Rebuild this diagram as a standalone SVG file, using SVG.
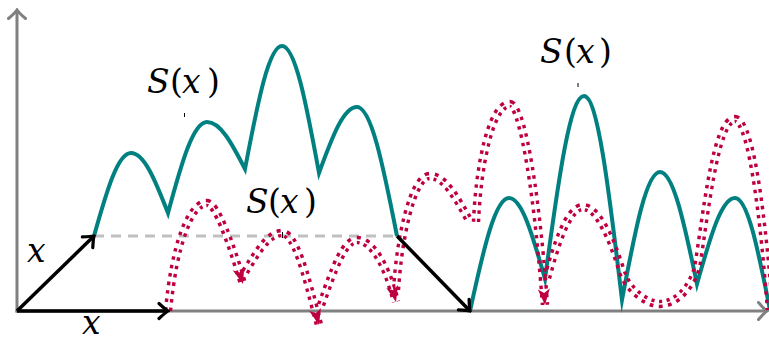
<svg xmlns="http://www.w3.org/2000/svg" width="769" height="341" viewBox="0 0 769 341">
<style>
.axis{stroke:#808080;stroke-width:3;fill:none}
.vec{stroke:#000;stroke-width:3.5;fill:none}
.teal{stroke:#008080;stroke-width:4;fill:none;stroke-linejoin:miter;stroke-miterlimit:20}
.mag{stroke:#BF0040;stroke-width:8.5;fill:none;stroke-dasharray:3.5 5}
.dash{stroke:#C0C0C0;stroke-width:3;stroke-dasharray:10 7;fill:none}
.lbl{font-family:"DejaVu Serif","Liberation Serif","Noto Serif",serif;font-size:33px;fill:#000}
.it{font-style:italic}
.tick{stroke:#000;stroke-width:1}
</style>
<defs>
<marker id="chK" markerUnits="userSpaceOnUse" orient="auto" viewBox="-12 -12 14 24" markerWidth="14" markerHeight="24" refX="0" refY="0">
<path d="M-9,-7.5 Q-2.5,-1.5 0,0 Q-2.5,1.5 -9,7.5" fill="none" stroke="#000" stroke-width="3.2" stroke-linecap="round"/>
</marker>
<marker id="chG" markerUnits="userSpaceOnUse" orient="auto" viewBox="-12 -12 14 24" markerWidth="14" markerHeight="24" refX="0" refY="0">
<path d="M-8.5,-8.5 Q-2.5,-1.5 0,0 Q-2.5,1.5 -8.5,8.5" fill="none" stroke="#808080" stroke-width="3" stroke-linecap="round"/>
</marker>
<marker id="arM" markerUnits="userSpaceOnUse" orient="auto" viewBox="-18 -9 20 18" markerWidth="20" markerHeight="18" refX="0" refY="0">
<path d="M0,0 L-16,-6 L-12,0 L-16,6 Z" fill="#BF0040" stroke="none"/>
</marker>
<g id="magP">
<path id="m1" d="M168,311 C174,245 190,203 207,203 C216,203 230,240 243,284"/>
<path id="m2" d="M245,272 C258.3,249.8 269.1,233 282,233 C295,233 305.7,272.6 319,325"/>
<path id="m3" d="M321,305 C334,268 344.4,240 357,240 C370.7,240 386,262 396,302"/>
<path id="m4" d="M396,290 C399,240 412,176 430,176 C444,176 455.6,195.8 470,222"/>
<path id="m5" d="M476,222 C478,170 490,104 510,104 C520,104 535,170 545,305"/>
<path id="m6" d="M547,278 C556,245 568,207 583,207 C598,207 612,240 622,272 C627,288 645,304 660,304 C675,304 690,290 697,268 C705,220 715,119 735,119 C752,119 764,230 770,310"/>
</g>
<mask id="dbl" maskUnits="userSpaceOnUse" x="0" y="0" width="769" height="341">
<use href="#magP" fill="none" stroke="#fff" stroke-width="10"/>
<use href="#magP" fill="none" stroke="#000" stroke-width="1.6"/>
</mask>
</defs>

<g id="axes">
<line class="axis" x1="17" y1="312.5" x2="17" y2="10" marker-end="url(#chG)"/>
<line class="axis" x1="15.5" y1="311" x2="767" y2="311" marker-end="url(#chG)"/>
</g>

<g id="baseline">
<line class="dash" x1="94" y1="236" x2="397" y2="236"/>
</g>

<g id="curve-teal">
<path class="teal" d="M94,236 C107.3,188.7 118,153 131,153 C144,153 154.7,178.8 168,213 C182,161.1 193.4,122 207,122 C220.3,122 231.3,142.2 245,169 C258.3,98.9 269.1,46 282,46 C295,46 305.7,100.6 319,173 C332.7,135.4 343.7,107 357,107 C371,107 382.6,162.5 397,236"/>
<path class="teal" d="M470,311 C484,246.6 495.4,198 509,198 C521.6,198 532,232.8 545,279 C559,174.7 570.4,96 584,96 C597.3,96 608.3,183.7 622,300 C635.7,227 646.7,172 660,172 C673,172 683.7,220.2 697,284 C710.7,235 721.7,198 735,198 C747.3,198 757.4,246.2 770,310"/>
</g>

<g id="curve-magenta">
<g mask="url(#dbl)"><use href="#magP" class="mag"/></g>
<use href="#m1" fill="none" stroke="none" marker-end="url(#arM)"/>
<use href="#m2" fill="none" stroke="none" marker-end="url(#arM)"/>
<use href="#m3" fill="none" stroke="none" marker-end="url(#arM)"/>
<use href="#m5" fill="none" stroke="none" marker-end="url(#arM)"/>
</g>

<g id="vectors">
<line class="vec" x1="17" y1="311" x2="94" y2="236" marker-end="url(#chK)"/>
<line class="vec" x1="17" y1="311" x2="168" y2="311" marker-end="url(#chK)"/>
<line class="vec" x1="397" y1="236" x2="470" y2="311" marker-end="url(#chK)"/>
</g>

<g id="labels">
<text class="lbl" y="93"><tspan class="it" x="147">S</tspan><tspan x="170">(</tspan><tspan class="it" x="182">x</tspan><tspan x="207">)</tspan></text>
<line class="tick" x1="184.5" y1="113" x2="184.5" y2="117"/>
<text class="lbl" y="63"><tspan class="it" x="540">S</tspan><tspan x="564">(</tspan><tspan class="it" x="576">x</tspan><tspan x="599">)</tspan></text>
<line class="tick" x1="578" y1="83" x2="578" y2="87"/>
<text class="lbl" y="213"><tspan class="it" x="246">S</tspan><tspan x="268">(</tspan><tspan class="it" x="280">x</tspan><tspan x="304">)</tspan></text>
<line class="tick" x1="282.5" y1="232" x2="282.5" y2="238"/>
<text class="lbl it" x="27" y="262">x</text>
<text class="lbl it" x="82" y="334">x</text>
</g>
</svg>
